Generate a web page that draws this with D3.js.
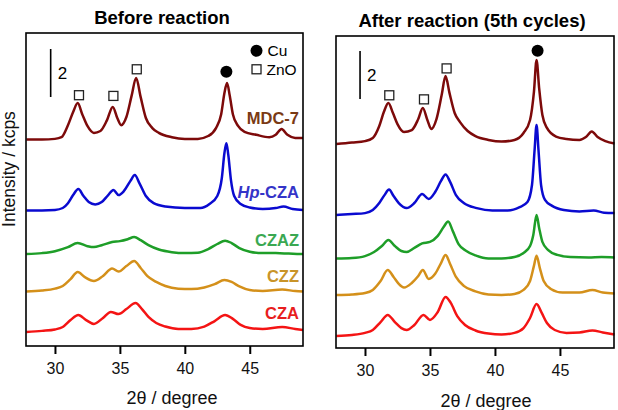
<!DOCTYPE html>
<html>
<head>
<meta charset="utf-8">
<script src="https://cdn.jsdelivr.net/npm/d3@7"></script>
<style>
  body { margin: 0; background: #fff; }
  svg { font-family: "Liberation Sans", Arial, sans-serif; }
</style>
</head>
<body>
<div id="chart"></div>
<script>
// XRD patterns, [2theta (deg), intensity above own baseline (kcps)]
const sampleNames = ["MDC-7", "Hp-CZA", "CZAZ", "CZZ", "CZA"]
const lineColors = ["#7d0a0a", "#0a0ad0", "#1e9e28", "#d4901a", "#f41414"]
const labelColors = ["#7a3a14", "#3434c8", "#3aa852", "#c99428", "#e81e1e"]

// before reaction
const beforeOffsets = [8.6, 5.65, 3.83, 2.27, 0.58]
const beforeMDC7 = [[27.8,0],[29,0],[30,0.03],[30.5,0.1],[31.0,0.6],[31.4,1.15],[31.75,1.52],[32.1,1.06],[32.5,0.57],[33.0,0.28],[33.5,0.36],[34.0,0.8],[34.45,1.36],[34.8,0.9],[35.1,0.6],[35.5,0.94],[35.9,1.82],[36.25,2.57],[36.6,1.77],[37.0,0.9],[37.5,0.48],[38,0.28],[39,0.1],[40,0.03],[41,0.03],[41.8,0.15],[42.4,0.48],[42.8,1.06],[43.05,1.94],[43.25,2.36],[43.45,1.86],[43.7,1.06],[44.1,0.57],[44.6,0.32],[45.5,0.2],[46.5,0.1],[47.0,0.2],[47.45,0.44],[47.9,0.2],[48.5,0.07],[49.1,0.07]]
const beforeHpCZA = [[27.8,0],[29,0],[30,0.02],[30.6,0.1],[31.0,0.3],[31.4,0.64],[31.8,0.89],[32.2,0.6],[32.6,0.35],[33.1,0.25],[33.6,0.35],[34.1,0.64],[34.5,0.85],[34.9,0.64],[35.3,0.8],[35.8,1.22],[36.15,1.47],[36.5,1.14],[37.0,0.6],[37.6,0.3],[38.5,0.16],[40,0.1],[41.2,0.1],[41.9,0.27],[42.5,0.6],[42.85,1.35],[43.05,2.39],[43.2,2.8],[43.35,2.3],[43.55,1.27],[43.8,0.6],[44.3,0.27],[45,0.12],[46,0.06],[47,0.1],[47.6,0.16],[48.3,0.06],[49.1,0.02]]
const beforeCZAZ = [[27.8,0],[29,0.04],[30,0.12],[31,0.29],[31.75,0.46],[32.5,0.33],[33.0,0.29],[33.6,0.37],[34.4,0.5],[35.0,0.54],[35.6,0.62],[36.1,0.71],[36.6,0.58],[37.2,0.37],[38,0.19],[39,0.08],[40,0.04],[41,0.06],[41.8,0.21],[42.5,0.42],[43.1,0.56],[43.6,0.46],[44.2,0.25],[45,0.1],[46,0.04],[47,0.04],[48,0.02],[49.1,0]]
const beforeCZZ = [[27.8,0],[29,0.04],[30,0.12],[30.6,0.23],[31.2,0.52],[31.75,0.81],[32.3,0.6],[33.0,0.44],[33.7,0.65],[34.4,0.96],[34.9,0.83],[35.5,1.06],[36.1,1.27],[36.6,0.98],[37.1,0.65],[37.8,0.4],[38.5,0.23],[39.5,0.12],[40.5,0.1],[41.5,0.17],[42.3,0.31],[43.05,0.48],[43.6,0.4],[44.2,0.21],[45,0.06],[46,0.02],[47.5,0.08],[48.5,0.02],[49.1,0]]
const beforeCZA = [[27.8,0],[29,0.05],[30,0.11],[30.6,0.21],[31.2,0.5],[31.8,0.71],[32.4,0.5],[33.0,0.34],[33.7,0.59],[34.3,0.84],[34.9,0.75],[35.5,0.96],[36.2,1.21],[36.7,0.96],[37.2,0.63],[37.8,0.38],[38.5,0.23],[39.5,0.13],[40.5,0.13],[41.5,0.23],[42.3,0.46],[43.1,0.71],[43.7,0.55],[44.3,0.3],[45,0.17],[46,0.13],[47.5,0.21],[48.5,0.13],[49.1,0.09]]

// after reaction (5th cycles)
const afterOffsets = [8.5, 5.54, 3.73, 2.21, 0.5]
const afterMDC7 = [[27.8,0],[29,0.06],[30,0.12],[30.6,0.25],[31.1,0.75],[31.45,1.33],[31.8,1.71],[32.15,1.29],[32.5,0.83],[33.0,0.5],[33.6,0.58],[34.1,1.04],[34.45,1.5],[34.8,1.0],[35.1,0.63],[35.5,1.04],[35.9,2.04],[36.2,2.83],[36.5,2.13],[36.9,1.29],[37.3,0.92],[37.9,0.54],[38.5,0.33],[39.5,0.17],[40.5,0.1],[41.5,0.17],[42.2,0.46],[42.7,1.0],[43.0,2.17],[43.2,3.5],[43.4,2.33],[43.65,1.21],[44.0,0.67],[44.7,0.31],[45.5,0.21],[46.5,0.17],[47.0,0.29],[47.45,0.52],[47.9,0.29],[48.5,0.12],[49.2,0.02]]
const afterHpCZA = [[27.8,0],[29,0.04],[30,0.08],[30.6,0.21],[31.1,0.5],[31.5,0.83],[31.85,1.06],[32.2,0.79],[32.6,0.5],[33.2,0.29],[33.8,0.5],[34.4,0.88],[34.9,0.67],[35.4,0.96],[35.85,1.42],[36.2,1.69],[36.55,1.38],[37.0,0.83],[37.6,0.5],[38.6,0.29],[39.8,0.19],[41.0,0.19],[41.9,0.33],[42.5,0.54],[42.85,1.25],[43.05,2.71],[43.2,3.75],[43.35,2.71],[43.55,1.25],[43.85,0.63],[44.4,0.38],[45.3,0.21],[46.5,0.15],[47.6,0.19],[48.4,0.1],[49.2,0.08]]
const afterCZAZ = [[27.8,0],[29,0.02],[30,0.1],[30.7,0.27],[31.3,0.52],[31.8,0.77],[32.3,0.52],[32.8,0.31],[33.2,0.27],[33.8,0.44],[34.4,0.63],[35.0,0.69],[35.6,0.94],[36.05,1.31],[36.4,1.54],[36.75,1.15],[37.2,0.6],[37.8,0.31],[38.5,0.13],[39.5,0],[40.5,0],[41.5,0.06],[42.2,0.23],[42.7,0.52],[42.95,0.98],[43.2,1.81],[43.4,1.27],[43.65,0.69],[44.1,0.35],[44.8,0.15],[45.8,0.06],[47.2,0.04],[48.2,0.06],[49.2,0.04]]
const afterCZZ = [[27.8,0],[29,0.02],[30,0.08],[30.6,0.21],[31.2,0.58],[31.75,1.04],[32.2,0.75],[32.6,0.46],[33.0,0.31],[33.6,0.5],[34.1,0.79],[34.45,1.04],[34.9,0.67],[35.4,0.88],[35.85,1.33],[36.2,1.67],[36.55,1.29],[37.0,0.75],[37.6,0.38],[38.5,0.15],[39.5,0.02],[40.5,0],[41.5,0.04],[42.2,0.21],[42.7,0.58],[43.0,1.21],[43.2,1.63],[43.45,1.13],[43.75,0.58],[44.3,0.25],[45.2,0.1],[46.5,0.1],[47.5,0.21],[48.3,0.1],[49.2,0.06]]
const afterCZA = [[27.8,0],[29,0.04],[30,0.13],[30.6,0.25],[31.2,0.58],[31.75,0.88],[32.3,0.58],[32.8,0.33],[33.2,0.25],[33.8,0.46],[34.5,0.88],[35.0,0.67],[35.6,1.0],[36.2,1.63],[36.6,1.38],[37.1,0.83],[37.7,0.46],[38.5,0.23],[39.5,0.1],[40.5,0.06],[41.5,0.13],[42.2,0.33],[42.7,0.75],[43.2,1.33],[43.6,0.96],[44.0,0.54],[44.6,0.25],[45.5,0.13],[46.5,0.15],[47.5,0.23],[48.3,0.15],[49.2,0.06]]

const xTicks = [30, 35, 40, 45]

// phase markers: [2theta, kcps, type]
const beforeMarkers = [[31.85,10.45,"ZnO"],[34.5,10.42,"ZnO"],[36.3,11.53,"ZnO"],[43.2,11.43,"Cu"]]
const afterMarkers = [[31.87,10.53,"ZnO"],[34.54,10.36,"ZnO"],[36.28,11.65,"ZnO"],[43.28,12.39,"Cu"]]

const beforeLabelY = [9.5, 6.43, 4.42, 2.92, 1.375]

const W = 618, H = 410
const svg = d3.select("#chart").append("svg").attr("width", W).attr("height", H)

function drawPanel(p) {
    const x = d3.scaleLinear().domain(p.xDomain).range([p.left, p.right])
    const y = d3.scaleLinear().domain([0, (p.bottom - p.top) / 24]).range([p.bottom, p.top])
    const g = svg.append("g")

    const line = d3.line()
        .x(d => x(d[0]))
        .y(d => y(d[1]))
        .curve(d3.curveMonotoneX)

    p.series.forEach((s, i) => {
        g.append("path")
            .datum(s.map(d => [d[0], d[1] + p.offsets[i]]))
            .attr("d", line)
            .attr("fill", "none")
            .attr("stroke", lineColors[i])
            .attr("stroke-width", 2.5)
            .attr("stroke-linejoin", "round")
    })

    // frame
    g.append("rect")
        .attr("x", p.left).attr("y", p.top)
        .attr("width", p.right - p.left).attr("height", p.bottom - p.top)
        .attr("fill", "none").attr("stroke", "#000").attr("stroke-width", 1.6)

    // x axis, ticks pointing out
    const ax = g.append("g")
        .attr("transform", `translate(0,${p.bottom})`)
        .call(d3.axisBottom(x).tickValues(xTicks).tickSize(8).tickPadding(9))
    ax.select(".domain").remove()
    ax.selectAll("line").attr("stroke-width", 2)
    ax.selectAll("text").attr("font-size", 16).attr("fill", "#111")
        .attr("font-family", "Liberation Sans, Arial, sans-serif")

    g.append("text")
        .attr("x", p.xTitleX).attr("y", p.xTitleY)
        .attr("text-anchor", "middle").attr("font-size", 18).attr("fill", "#111")
        .text("2θ / degree")

    g.append("text")
        .attr("x", p.titleX).attr("y", p.titleY)
        .attr("text-anchor", "middle").attr("font-size", 18.5).attr("font-weight", "bold")
        .text(p.title)

    // 2 kcps scale bar
    g.append("line")
        .attr("x1", x(p.barX)).attr("x2", x(p.barX))
        .attr("y1", y(p.barY)).attr("y2", y(p.barY + 2))
        .attr("stroke", "#000").attr("stroke-width", 1.6)
    g.append("text")
        .attr("x", x(p.barX) + 7).attr("y", y(p.barY + 1) + 6)
        .attr("font-size", 17).text("2")

    // phase markers
    p.markers.forEach(m => {
        if (m[2] === "Cu") {
            g.append("circle").attr("cx", x(m[0])).attr("cy", y(m[1])).attr("r", 6).attr("fill", "#000")
        } else {
            g.append("rect").attr("x", x(m[0]) - 4.5).attr("y", y(m[1]) - 4.5)
                .attr("width", 9).attr("height", 9)
                .attr("fill", "#fff").attr("stroke", "#222").attr("stroke-width", 1.3)
        }
    })

    return { x, y, g }
}

const left = drawPanel({
    left: 26, right: 303, top: 33, bottom: 346,
    xDomain: [27.77, 49.1],
    series: [beforeMDC7, beforeHpCZA, beforeCZAZ, beforeCZZ, beforeCZA],
    offsets: beforeOffsets,
    markers: beforeMarkers,
    title: "Before reaction", titleX: 162, titleY: 24,
    xTitleX: 172, xTitleY: 404,
    barX: 29.67, barY: 10.375
})

const right = drawPanel({
    left: 336, right: 614, top: 36, bottom: 348,
    xDomain: [27.77, 49.16],
    series: [afterMDC7, afterHpCZA, afterCZAZ, afterCZZ, afterCZA],
    offsets: afterOffsets,
    markers: afterMarkers,
    title: "After reaction (5th cycles)", titleX: 472, titleY: 27,
    xTitleX: 486, xTitleY: 407,
    barX: 29.62, barY: 10.375
})

// sample labels (left panel)
sampleNames.forEach((name, i) => {
    const t = left.g.append("text")
        .attr("x", left.x(48.79)).attr("y", left.y(beforeLabelY[i]))
        .attr("dy", "0.36em")
        .attr("text-anchor", "end")
        .attr("font-size", 16.5).attr("font-weight", "bold")
        .attr("fill", labelColors[i])
    if (name.startsWith("Hp")) {
        t.append("tspan").attr("font-style", "italic").text("Hp")
        t.append("tspan").text(name.slice(2))
    } else {
        t.text(name)
    }
})

// legend
left.g.append("circle").attr("cx", left.x(45.52)).attr("cy", left.y(12.3)).attr("r", 6).attr("fill", "#000")
left.g.append("text").attr("x", left.x(45.52) + 11).attr("y", left.y(12.3) + 5.5).attr("font-size", 15.5).text("Cu")
left.g.append("rect").attr("x", left.x(45.52) - 4.5).attr("y", left.y(11.53) - 4.5)
    .attr("width", 9).attr("height", 9).attr("fill", "#fff").attr("stroke", "#222").attr("stroke-width", 1.3)
left.g.append("text").attr("x", left.x(45.52) + 10).attr("y", left.y(11.53) + 5.5).attr("font-size", 15.5).text("ZnO")

// y axis title
svg.append("text")
    .attr("transform", "translate(15,169) rotate(-90)")
    .attr("text-anchor", "middle").attr("font-size", 17.5).attr("fill", "#111")
    .text("Intensity / kcps")
</script>
</body>
</html>
